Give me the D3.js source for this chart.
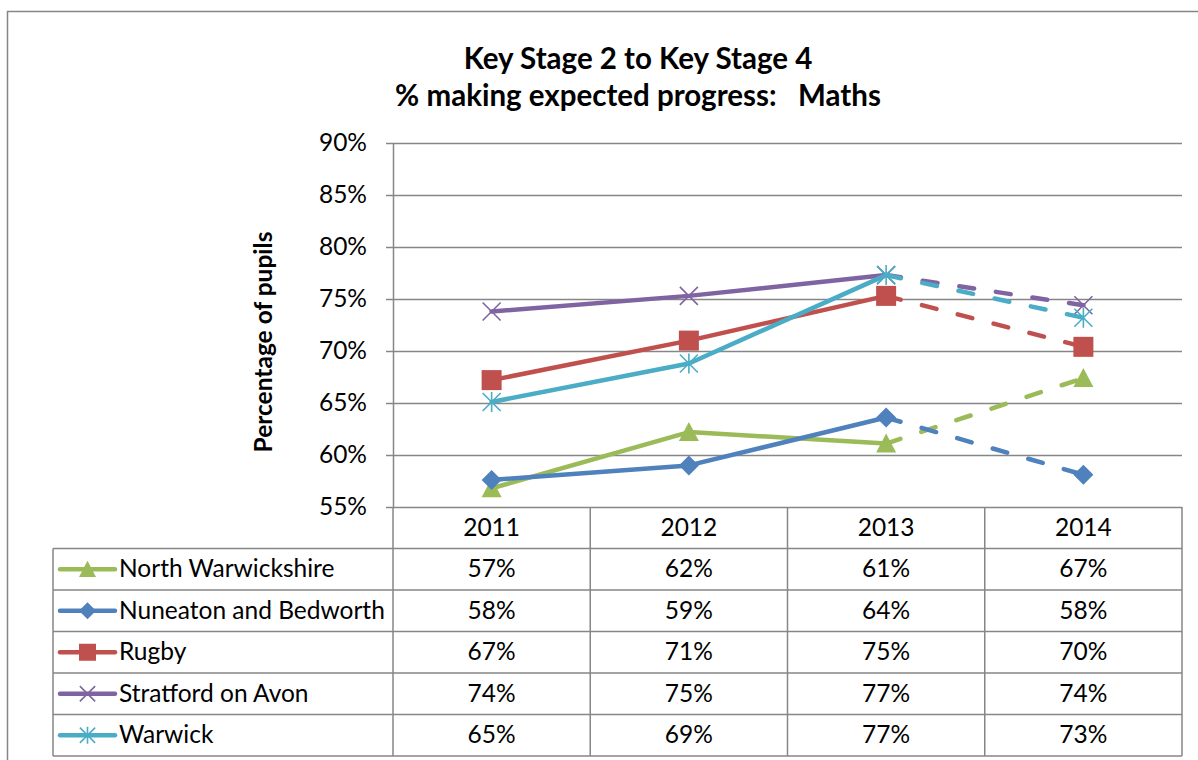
<!DOCTYPE html>
<html>
<head>
<meta charset="utf-8">
<script src="https://cdn.jsdelivr.net/npm/d3@7/dist/d3.min.js"></script>
<style>
  body { margin: 0; background: #fff; }
  svg { display: block; font-family: Lato, "Liberation Sans", sans-serif; }
</style>
</head>
<body>
<script>
// values (percent); the table shows them rounded
var years = ["2011", "2012", "2013", "2014"];
var seriesNames = ["North Warwickshire", "Nuneaton and Bedworth", "Rugby", "Stratford on Avon", "Warwick"];
var northWarwickshire = [56.8, 62.2, 61.1, 67.4];
var nuneatonBedworth = [57.6, 59.0, 63.6, 58.1];
var rugby = [67.2, 71.0, 75.3, 70.4];
var stratfordOnAvon = [73.8, 75.3, 77.3, 74.4];
var warwick = [65.1, 68.8, 77.3, 73.2];
var yTicks = [55, 60, 65, 70, 75, 80, 85, 90];
var titleLines = ["Key Stage 2 to Key Stage 4", "% making expected progress:   Maths"];
var yTitle = "Percentage of pupils";

var colors = ["#9bbb59", "#4f81bd", "#c0504d", "#8064a2", "#4bacc6"];
var markers = ["triangle", "diamond", "square", "cross", "star"];

var series = [northWarwickshire, nuneatonBedworth, rugby, stratfordOnAvon, warwick].map(function(v, i) {
  return { name: seriesNames[i], values: v, color: colors[i], marker: markers[i] };
});

var W = 1198, H = 760;
var plot = { left: 393, right: 1182, top: 143, bottom: 507 };
var table = { left: 53, rowH: 41.5 };
var gridColor = "#868686";
var fs = 24.5;

var svg = d3.select(document.body).append("svg")
  .attr("width", W).attr("height", H);

svg.append("rect").attr("width", W).attr("height", H).attr("fill", "#fff");

// chart area border (only left and top show inside the window)
svg.append("path")
  .attr("d", "M7.5," + H + "V11.5H" + W)
  .attr("fill", "none").attr("stroke", gridColor).attr("stroke-width", 1.5);

var x = d3.scaleBand().domain(years).range([plot.left, plot.right]);
var y = d3.scaleLinear().domain([55, 90]).range([plot.bottom, plot.top]);
function cx(i) { return x(years[i]) + x.bandwidth() / 2; }

// title
svg.append("g").selectAll("text").data(titleLines).join("text")
  .attr("x", 638).attr("y", function(d, i) { return 69 + i * 37; })
  .attr("text-anchor", "middle")
  .style("white-space", "pre")
  .attr("font-size", 29.5).attr("font-weight", "bold").attr("fill", "#000")
  .text(function(d) { return d; });

// gridlines
var grid = svg.append("g").attr("transform", "translate(" + plot.left + ",0)")
  .call(d3.axisLeft(y).tickValues(yTicks).tickSize(-(plot.right - plot.left)).tickFormat(""));
grid.select(".domain").remove();
grid.selectAll("line").attr("stroke", gridColor).attr("stroke-width", 1.5);

// y axis
var yAxis = svg.append("g").attr("transform", "translate(" + plot.left + ",0)")
  .call(d3.axisLeft(y).tickValues(yTicks).tickSize(7).tickPadding(19)
    .tickFormat(function(d) { return d + "%"; }));
yAxis.select(".domain").attr("stroke", gridColor).attr("stroke-width", 1.5)
  .attr("d", "M0.5," + plot.top + "V" + plot.bottom);
yAxis.selectAll("line").attr("stroke", gridColor).attr("stroke-width", 1.5);
yAxis.selectAll("text").attr("font-size", fs).attr("fill", "#000")
  .attr("font-family", "Lato, sans-serif");

svg.append("text")
  .attr("transform", "translate(272,342) rotate(-90)")
  .attr("text-anchor", "middle")
  .attr("font-size", fs).attr("font-weight", "bold")
  .text(yTitle);

// markers
function drawMarker(g, type, px, py, s, color) {
  if (type === "triangle") {
    g.append("path").attr("d", "M" + px + "," + (py - s) + "L" + (px + s) + "," + (py + s * 0.9) +
      "L" + (px - s) + "," + (py + s * 0.9) + "Z").attr("fill", color);
  } else if (type === "diamond") {
    g.append("path").attr("d", "M" + px + "," + (py - s) + "L" + (px + s) + "," + py +
      "L" + px + "," + (py + s) + "L" + (px - s) + "," + py + "Z").attr("fill", color);
  } else if (type === "square") {
    g.append("rect").attr("x", px - s).attr("y", py - s).attr("width", 2 * s).attr("height", 2 * s)
      .attr("fill", color);
  } else {
    var k = s * 0.9;
    var d = "M" + (px - k) + "," + (py - k) + "L" + (px + k) + "," + (py + k) +
      "M" + (px - k) + "," + (py + k) + "L" + (px + k) + "," + (py - k);
    if (type === "star") d += "M" + px + "," + (py - s) + "V" + (py + s);
    g.append("path").attr("d", d).attr("fill", "none").attr("stroke", color).attr("stroke-width", 1.6);
  }
}

var line = d3.line()
  .x(function(d) { return cx(d.i); })
  .y(function(d) { return y(d.v); });

series.forEach(function(s) {
  var g = svg.append("g");
  var pts = s.values.map(function(v, i) { return { v: v, i: i }; });
  g.append("path").attr("d", line(pts.slice(0, 3)))
    .attr("fill", "none").attr("stroke", s.color).attr("stroke-width", 4.5)
    .attr("stroke-linecap", "round").attr("stroke-linejoin", "round");
  g.append("path").attr("d", line(pts.slice(2)))
    .attr("fill", "none").attr("stroke", s.color).attr("stroke-width", 4.5)
    .attr("stroke-linecap", "round").attr("stroke-dasharray", "15,22");
  pts.forEach(function(p) { drawMarker(g, s.marker, cx(p.i), y(p.v), 10, s.color); });
});

// data table
var rowTop = function(r) { return plot.bottom + r * table.rowH; };
var tableBottom = rowTop(6);
var tg = svg.append("g").attr("stroke", gridColor).attr("stroke-width", 1.5);
tg.append("line").attr("x1", plot.left).attr("x2", plot.left).attr("y1", plot.bottom).attr("y2", tableBottom);
years.forEach(function(yr) {
  var xr = x(yr) + x.bandwidth();
  tg.append("line").attr("x1", xr).attr("x2", xr).attr("y1", plot.bottom).attr("y2", tableBottom);
});
for (var r = 1; r <= 6; r++) {
  tg.append("line").attr("x1", table.left).attr("x2", plot.right)
    .attr("y1", rowTop(r)).attr("y2", rowTop(r));
}
tg.append("line").attr("x1", table.left).attr("x2", table.left).attr("y1", rowTop(1)).attr("y2", tableBottom);

svg.append("g").selectAll("text").data(years).join("text")
  .attr("x", function(d, i) { return cx(i); })
  .attr("y", rowTop(0) + table.rowH / 2 + 8)
  .attr("text-anchor", "middle").attr("font-size", fs)
  .text(function(d) { return d; });

series.forEach(function(s, r) {
  var mid = rowTop(r + 1) + table.rowH / 2;
  var g = svg.append("g");
  g.append("line").attr("x1", 60).attr("x2", 115).attr("y1", mid).attr("y2", mid)
    .attr("stroke", s.color).attr("stroke-width", 4.5).attr("stroke-linecap", "round");
  drawMarker(g, s.marker, 87.5, mid, 8.5, s.color);
  g.append("text").attr("x", 119).attr("y", mid + 8).attr("font-size", fs).text(s.name);
  g.selectAll(".val").data(s.values).join("text").attr("class", "val")
    .attr("x", function(d, i) { return cx(i); })
    .attr("y", mid + 8)
    .attr("text-anchor", "middle").attr("font-size", fs)
    .text(function(d) { return Math.round(d) + "%"; });
});
</script>
</body>
</html>
